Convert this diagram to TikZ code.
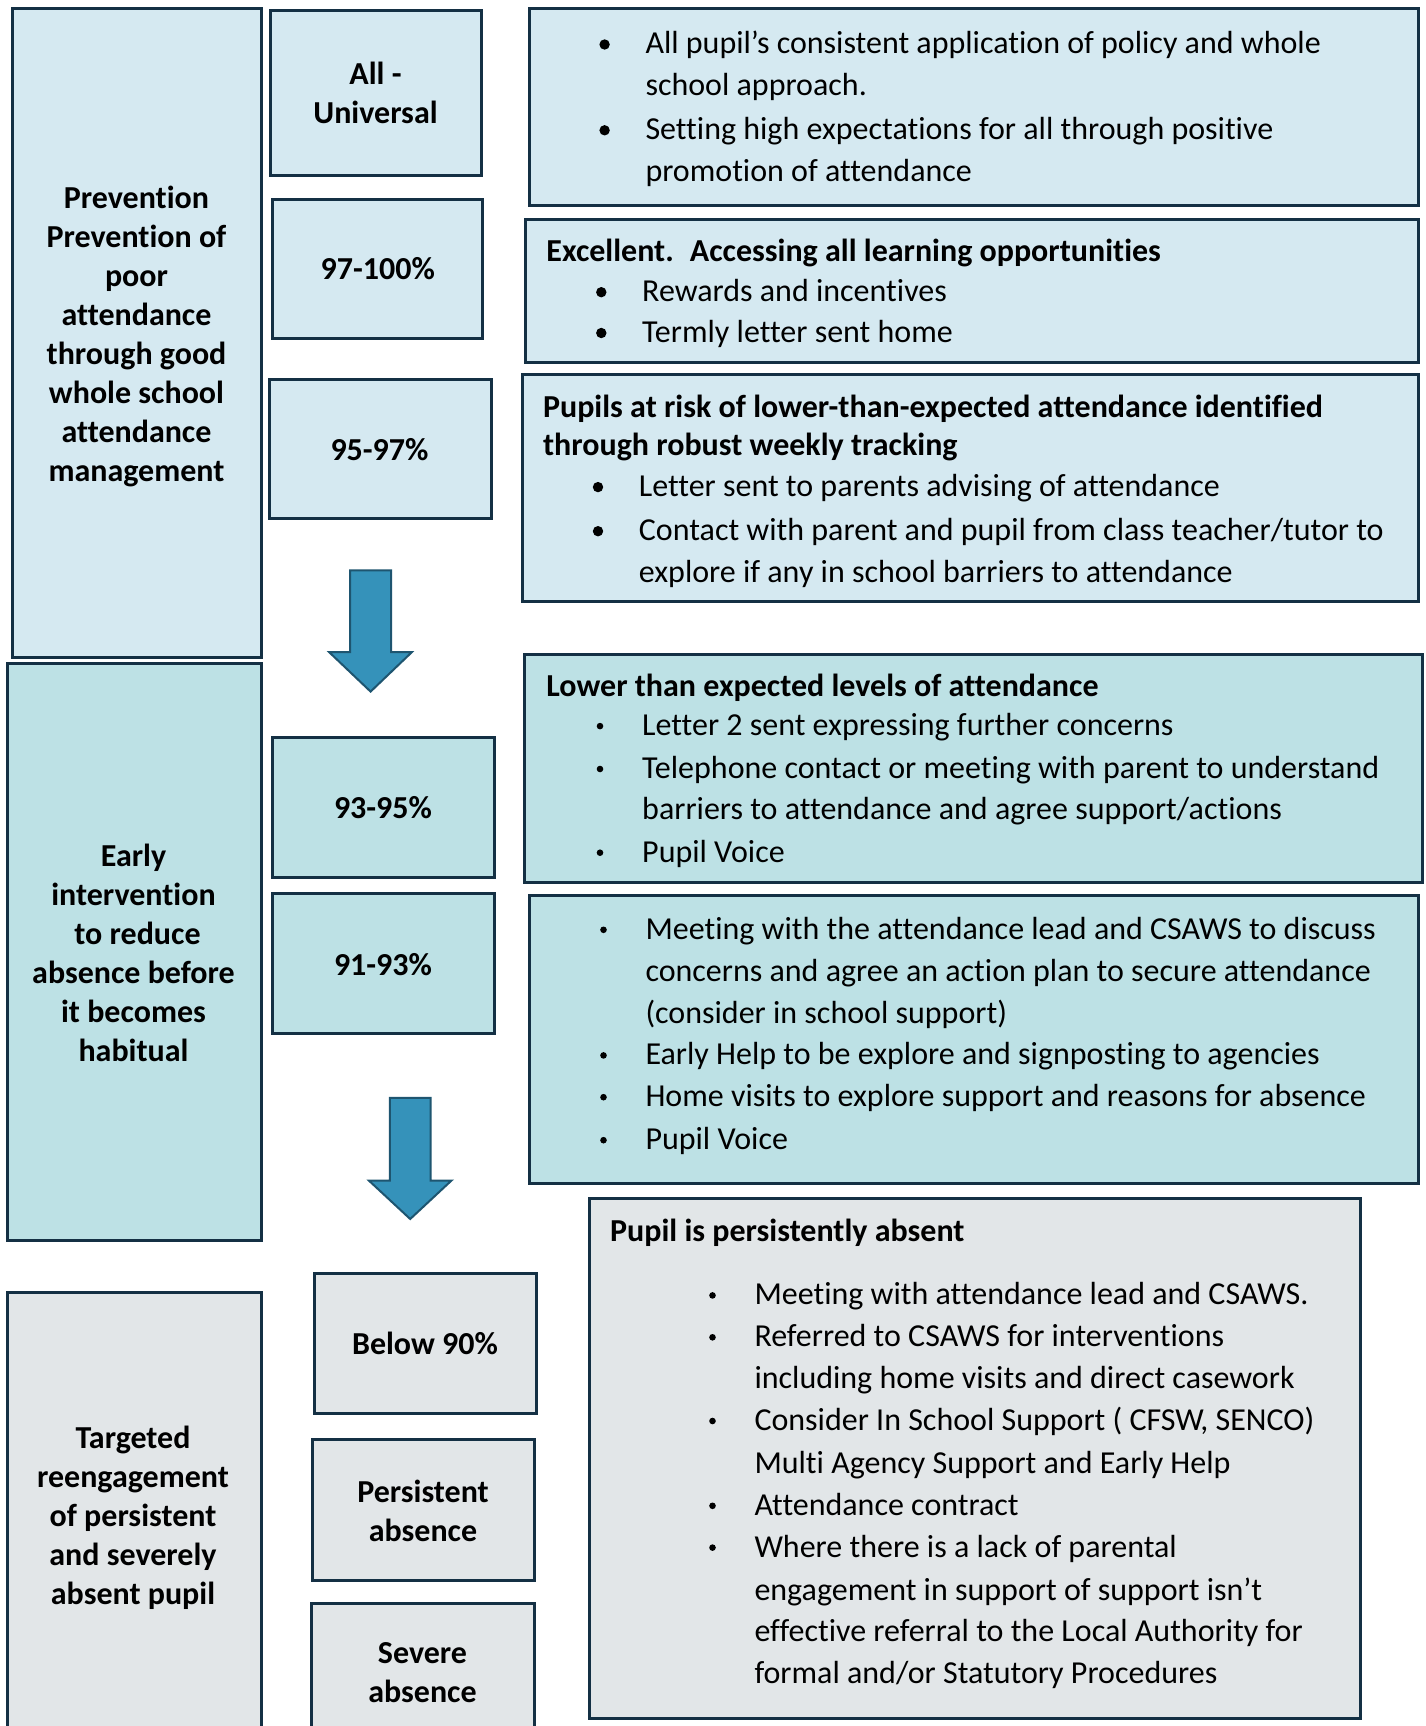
\documentclass[tikz,border=0pt]{standalone}
\usepackage{fontspec}
\setmainfont{Carlito}[Ligatures=NoCommon]
\definecolor{edge}{RGB}{20,48,68}
\definecolor{fillA}{RGB}{213,233,241}
\definecolor{fillB}{RGB}{189,225,229}
\definecolor{fillC}{RGB}{226,230,232}
\definecolor{arrowfill}{RGB}{53,146,186}
\definecolor{arrowedge}{RGB}{30,85,112}
\newcommand\bodyfont{\fontsize{32}{42}\selectfont}
\newcommand\labfont{\fontsize{32}{39}\selectfont\bfseries}
\newcommand\tstrut{\rule{0pt}{30pt}}
% box: name, fill, x0, y0, x1, y1
\newcommand\BOX[6]{\node[panel, fill=#2, minimum width={(#5-#3)*1pt}, minimum height={(#6-#4)*1pt}] (#1) at (#3,#4) {};}
% bullet line: name, radius, bullet x, text x, baseline, text
\newcommand\BL[6]{\fill (#3,#5-9.5) circle (#2pt); \node[body] (#1) at (#4,#5) {#6};}
\newcommand\CL[4]{\node[body] (#1) at (#2,#3) {#4};}
\newcommand\HL[4]{\node[body, font=\bodyfont\bfseries] (#1) at (#2,#3) {#4};}
\begin{document}
\begin{tikzpicture}[x=1pt, y=-1pt,
  panel/.style={draw=edge, line width=3pt, rectangle, inner sep=0pt, outer sep=0pt, anchor=north west},
  body/.style={anchor=base west, inner sep=0pt, font=\bodyfont, text=black},
  lab/.style={anchor=north, inner sep=0pt, align=center, font=\labfont, text=black},
  downarrow/.style={fill=arrowfill, draw=arrowedge, line width=2pt, line join=miter}]
\useasboundingbox (0,0) rectangle (1426,1726);
\fill[white] (0,0) rectangle (1426,1726);

% ---------- boxes ----------
\BOX{prevL}{fillA}{12}{9}{261}{657}
\BOX{univ}{fillA}{270}{11}{481}{175}
\BOX{p97}{fillA}{272}{199}{482}{338}
\BOX{p95}{fillA}{269}{379}{491}{518}
\BOX{r1}{fillA}{529}{9}{1418}{205}
\BOX{r2}{fillA}{525}{219}{1418}{362}
\BOX{r3}{fillA}{522}{374}{1418}{601}
\BOX{earlyL}{fillB}{7}{663}{261}{1240}
\BOX{p93}{fillB}{272}{737}{494}{877}
\BOX{p91}{fillB}{272}{893}{494}{1033}
\BOX{r4}{fillB}{524}{654}{1422}{882}
\BOX{r5}{fillB}{529}{895}{1418}{1183}
\BOX{targL}{fillC}{7}{1292}{261}{1745}
\BOX{below}{fillC}{314}{1273}{536}{1413}
\BOX{persist}{fillC}{312}{1439}{534}{1580}
\BOX{severe}{fillC}{311}{1603}{534}{1745}
\BOX{r6}{fillC}{589}{1198}{1360}{1718}

% ---------- arrows ----------
\draw[downarrow] (350.2,570.4) -- (391,570.4) -- (391,652) -- (412,652) -- (370.6,691.6) -- (329,652) -- (350.2,652) -- cycle;
\draw[downarrow] (389.8,1097.9) -- (430.6,1097.9) -- (430.6,1180.5) -- (451.5,1180.5) -- (410.2,1219) -- (368.8,1180.5) -- (389.8,1180.5) -- cycle;

\begin{scope}[shift={(0,3.3)}]
% ---------- left labels ----------
\node[lab] (prevT) at (136.5,204.8-30) {\tstrut Prevention\\Prevention of\\poor\\attendance\\through good\\whole school\\attendance\\management};
\node[lab] (earlyT) at (133.5,863.3-30) {\tstrut Early\\intervention\\\hspace*{8pt}to reduce\\absence before\\it becomes\\habitual};
\node[lab] (targT) at (133,1444.8-30) {\tstrut Targeted\\reengagement\\of persistent\\and severely\\absent pupil};

% ---------- level labels ----------
\node[lab] (univT) at (375.5,81.5-30) {\tstrut All -\\Universal};
\node[lab] (p97T) at (377.7,276.4-30) {\tstrut 97-100\%};
\node[lab] (p95T) at (379.5,457-30) {\tstrut 95-97\%};
\node[lab] (p93T) at (383,814.9-30) {\tstrut 93-95\%};
\node[lab] (p91T) at (383,972.4-30) {\tstrut 91-93\%};
\node[lab] (belowT) at (425,1351.2-30) {\tstrut Below 90\%};
\node[lab] (persistT) at (423,1498.7-30) {\tstrut Persistent\\absence};
\node[lab] (severeT) at (422.5,1659.5-30) {\tstrut Severe\\absence};

% ---------- box 1 ----------
\BL{r1a}{5.2}{604.6}{645.3}{50.7}{All pupil’s consistent application of policy and whole}
\CL{r1b}{645.3}{92.5}{school approach.}
\BL{r1c}{5.2}{604.6}{645.3}{136.5}{Setting high expectations for all through positive}
\CL{r1d}{645.3}{178.4}{promotion of attendance}

% ---------- box 2 ----------
\HL{r2h}{546.2}{257.7}{Excellent.\hspace{0.2em} Accessing all learning opportunities}
\BL{r2a}{5.2}{601.3}{642}{298.4}{Rewards and incentives}
\BL{r2b}{5.2}{601.3}{642}{339.2}{Termly letter sent home}

% ---------- box 3 ----------
\HL{r3h}{542.9}{414.1}{Pupils at risk of lower-than-expected attendance identified}
\HL{r3i}{542.9}{452.6}{through robust weekly tracking}
\BL{r3a}{5.2}{598}{638.7}{493.3}{Letter sent to parents advising of attendance}
\BL{r3b}{5.2}{598}{638.7}{537.4}{Contact with parent and pupil from class teacher/tutor to}
\CL{r3c}{638.7}{579.2}{explore if any in school barriers to attendance}

% ---------- box 4 ----------
\HL{r4h}{546.2}{692.7}{Lower than expected levels of attendance}
\BL{r4a}{3.3}{600}{642}{732.3}{Letter 2 sent expressing further concerns}
\BL{r4b}{3.3}{600}{642}{775.2}{Telephone contact or meeting with parent to understand}
\CL{r4c}{642}{816.0}{barriers to attendance and agree support/actions}
\BL{r4d}{3.3}{600}{642}{858.9}{Pupil Voice}

% ---------- box 5 ----------
\BL{r5a}{3.3}{603.5}{645.3}{936.0}{Meeting with the attendance lead and CSAWS to discuss}
\CL{r5b}{645.3}{977.9}{concerns and agree an action plan to secure attendance}
\CL{r5c}{645.3}{1019.7}{(consider in school support)}
\BL{r5d}{3.3}{603.5}{645.3}{1061.6}{Early Help to be explore and signposting to agencies}
\BL{r5e}{3.3}{603.5}{645.3}{1103.4}{Home visits to explore support and reasons for absence}
\BL{r5f}{3.3}{603.5}{645.3}{1146.4}{Pupil Voice}

% ---------- box 6 ----------
\HL{r6h}{610}{1237.7}{Pupil is persistently absent}
\BL{r6a}{3.3}{712.5}{754.3}{1301.6}{Meeting with attendance lead and CSAWS.}
\BL{r6b}{3.3}{712.5}{754.3}{1343.5}{Referred to CSAWS for interventions}
\CL{r6c}{754.3}{1385.3}{including home visits and direct casework}
\BL{r6d}{3.3}{712.5}{754.3}{1427.2}{Consider In School Support ( CFSW, SENCO)}
\CL{r6e}{754.3}{1470.1}{Multi Agency Support and Early Help}
\BL{r6f}{3.3}{712.5}{754.3}{1512.0}{Attendance contract}
\BL{r6g}{3.3}{712.5}{754.3}{1553.8}{Where there is a lack of parental}
\CL{r6h2}{754.3}{1596.7}{engagement in support of support isn’t}
\CL{r6i}{754.3}{1638.6}{effective referral to the Local Authority for}
\CL{r6j}{754.3}{1680.4}{formal and/or Statutory Procedures}
\end{scope}
\end{tikzpicture}
\end{document}
